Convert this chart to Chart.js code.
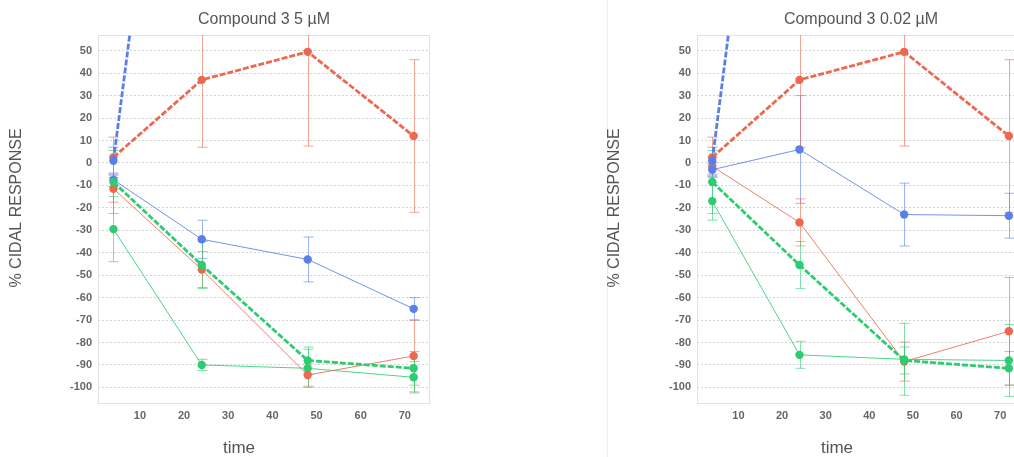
<!DOCTYPE html>
<html><head><meta charset="utf-8">
<script src="https://cdn.jsdelivr.net/npm/chart.js@4.4.0/dist/chart.umd.min.js"></script>
<style>
html,body{margin:0;padding:0;background:#fff;overflow:hidden;width:1014px;height:457px;position:relative;}
.panel{position:absolute;top:0;width:478px;height:457px;}
#sep{position:absolute;left:607px;top:0;width:1px;height:457px;background:#eeeeee;}
</style></head><body>
<div class="panel" style="left:0"><canvas id="c1" width="478" height="457"></canvas></div>
<div id="sep"></div>
<div class="panel" style="left:598px"><canvas id="c2" width="478" height="457"></canvas></div>
<script>
const times = [4, 24, 48, 72];
const xTickValues = [10, 20, 30, 40, 50, 60, 70];
const yTickValues = [50, 40, 30, 20, 10, 0, -10, -20, -30, -40, -50, -60, -70, -80, -90, -100];
const panelTitles = ['Compound 3 5 µM', 'Compound 3 0.02 µM'];
const yAxisTitle = '% CIDAL RESPONSE';
const xAxisTitle = 'time';

// controls (same in both panels)
const ctrlBlue = [1, 305, 610, 900];
const ctrlBlueErr = [6, 0, 0, 0];
const ctrlRed = [2.5, 37, 49.5, 12];
const ctrlRedErr = [9, 30, 42, 34];
const ctrlGreen = [-8.5, -45.5, -88, -91.5];
const ctrlGreenErr = [14, 10.5, 6, 7.5];

// Compound 3 5 µM
const hiBlue = [-7.5, -34, -43, -65];
const hiBlueErr = [3, 8.5, 10, 5];
const hiRed = [-11.5, -47.5, -94.5, -86];
const hiRedErr = [6, 8, 5, 16];
const hiGreen = [-29.5, -90, -91.5, -95.5];
const hiGreenErr = [14.5, 2.5, 8.5, 7];

// Compound 3 0.02 µM
const loBlue = [-3, 6, -23, -23.5];
const loBlueErr = [3, 24, 14, 10];
const loRed = [-1.5, -26.5, -88.5, -75];
const loRedErr = [4, 10.5, 8.7, 24];
const loGreen = [-17, -85.5, -87.5, -88];
const loGreenErr = [8.5, 6, 16, 16];

const BLUE = 'rgb(91,127,234)', RED = 'rgb(238,104,80)', GREEN = 'rgb(46,204,113)';
const alpha = (c, a) => c.replace('rgb', 'rgba').replace(')', ',' + a + ')');
const FONT = '"Liberation Sans", Arial, sans-serif';

function ds(vals, errs, color, dashed) {
  return {
    data: times.map((t, i) => ({x: t, y: vals[i]})),
    err: errs,
    errColor: alpha(color, 0.6),
    borderColor: dashed ? color : alpha(color, 0.85),
    backgroundColor: color,
    pointBackgroundColor: color,
    pointBorderColor: color,
    pointBorderWidth: 0,
    pointRadius: 4.2,
    borderWidth: dashed ? 2.8 : 1,
    borderDash: dashed ? [6, 2] : [],
    tension: 0,
    order: dashed ? 0 : 1
  };
}

const decor = {
  id: 'decor',
  beforeDatasetsDraw(chart) {
    const {ctx, chartArea: a, scales: {x, y}} = chart;
    ctx.save();
    ctx.strokeStyle = '#e2e2e2'; ctx.lineWidth = 1;
    ctx.strokeRect(a.left + 0.5, a.top + 0.5, a.right - a.left - 1, a.bottom - a.top - 1);
    ctx.beginPath(); ctx.rect(a.left, a.top, a.right - a.left, a.bottom - a.top); ctx.clip();
    chart.data.datasets.forEach(d => {
      ctx.strokeStyle = d.errColor; ctx.lineWidth = 1;
      d.data.forEach((p, i) => {
        const e = d.err[i]; if (!e) return;
        const px = Math.round(x.getPixelForValue(p.x)) + 0.5;
        const y1 = y.getPixelForValue(p.y + e), y2 = y.getPixelForValue(p.y - e);
        ctx.beginPath();
        ctx.moveTo(px, y1); ctx.lineTo(px, y2);
        ctx.moveTo(px - 5, y1); ctx.lineTo(px + 5, y1);
        ctx.moveTo(px - 5, y2); ctx.lineTo(px + 5, y2);
        ctx.stroke();
      });
    });
    ctx.restore();
  },
  afterDraw(chart) {
    const {ctx, chartArea: a} = chart;
    ctx.save();
    ctx.fillStyle = '#555';
    ctx.textAlign = 'center'; ctx.textBaseline = 'middle';
    ctx.font = '16px ' + FONT;
    ctx.fillText(chart.options.plugins.decor.title, (a.left + a.right) / 2, 20);
    ctx.font = '17px ' + FONT;
    ctx.fillText(xAxisTitle, chart.width / 2, 448);
    ctx.translate(17, 208); ctx.rotate(-Math.PI / 2);
    ctx.font = '16px ' + FONT;
    ctx.fillText(yAxisTitle, 0, 0);
    ctx.restore();
  }
};

function makeChart(id, title, blue, blueErr, red, redErr, green, greenErr, yW, padR) {
  return new Chart(document.getElementById(id), {
    type: 'line',
    data: {
      datasets: [
        ds(blue, blueErr, BLUE, false),
        ds(red, redErr, RED, false),
        ds(green, greenErr, GREEN, false),
        ds(ctrlBlue, ctrlBlueErr, BLUE, true),
        ds(ctrlRed, ctrlRedErr, RED, true),
        ds(ctrlGreen, ctrlGreenErr, GREEN, true)
      ]
    },
    options: {
      responsive: false,
      devicePixelRatio: 1,
      animation: false,
      layout: {padding: {left: 0, right: padR, top: 35, bottom: 0}},
      plugins: {legend: {display: false}, tooltip: {enabled: false}, decor: {title: title}},
      scales: {
        x: {
          type: 'linear', min: 0.5, max: 75.7,
          afterBuildTicks: s => { s.ticks = xTickValues.map(v => ({value: v})); },
          afterFit: s => { s.height = 53; },
          grid: {display: false, drawTicks: false},
          border: {display: false},
          ticks: {padding: 5, color: '#666', font: {family: FONT, size: 11, weight: 'bold'}}
        },
        y: {
          type: 'linear', min: -107.4, max: 57,
          afterBuildTicks: s => { s.ticks = yTickValues.map(v => ({value: v})); },
          afterFit: s => { s.width = yW; },
          grid: {color: '#d4d4d4', drawTicks: false, lineWidth: 1},
          border: {display: false, dash: [2, 2]},
          ticks: {padding: 6, color: '#666', font: {family: FONT, size: 11, weight: 'bold'}}
        }
      }
    },
    plugins: [decor]
  });
}

makeChart('c1', panelTitles[0], hiBlue, hiBlueErr, hiRed, hiRedErr, hiGreen, hiGreenErr, 98, 48);
makeChart('c2', panelTitles[1], loBlue, loBlueErr, loRed, loRedErr, loGreen, loGreenErr, 99, 51);
</script>
</body></html>
